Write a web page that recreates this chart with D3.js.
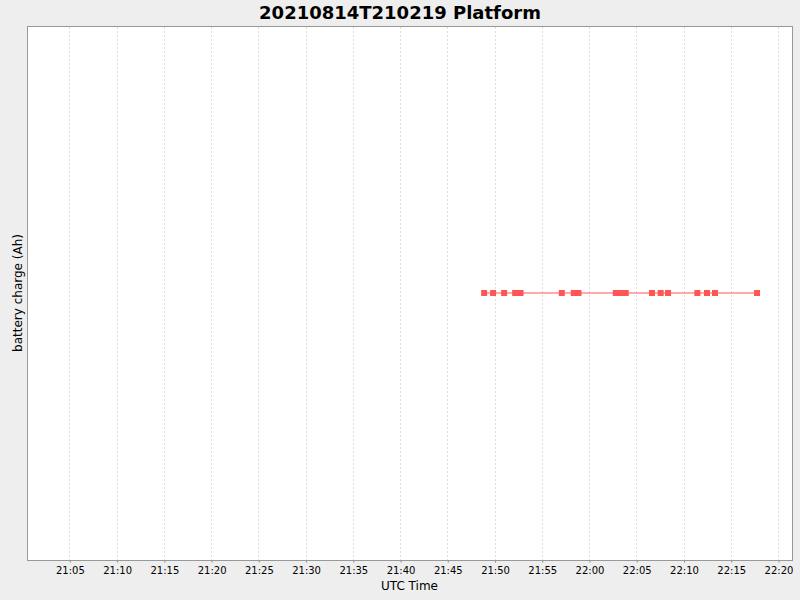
<!DOCTYPE html>
<html>
<head>
<meta charset="utf-8">
<script src="https://cdn.jsdelivr.net/npm/d3@7"></script>
<style>
  html, body { margin: 0; padding: 0; background: #EEEEEE; }
  svg { display: block; font-family: "DejaVu Sans", sans-serif; }
</style>
</head>
<body>
<svg id="chart" width="800" height="600"></svg>
<script>
const chartTitle = "20210814T210219 Platform";
const xAxisLabel = "UTC Time";
const yAxisLabel = "battery charge (Ah)";
const domainTimes = ["2021-08-14T21:00:31Z", "2021-08-14T22:21:29Z"];
const sampleTimes = [
  "2021-08-14T21:48:54Z", "2021-08-14T21:49:51Z", "2021-08-14T21:51:01Z",
  "2021-08-14T21:52:11Z", "2021-08-14T21:52:45Z", "2021-08-14T21:57:07Z",
  "2021-08-14T21:58:23Z", "2021-08-14T21:58:53Z", "2021-08-14T22:02:50Z",
  "2021-08-14T22:03:22Z", "2021-08-14T22:03:53Z", "2021-08-14T22:06:40Z",
  "2021-08-14T22:07:35Z", "2021-08-14T22:08:22Z", "2021-08-14T22:11:28Z",
  "2021-08-14T22:12:29Z", "2021-08-14T22:13:20Z", "2021-08-14T22:17:47Z"
];
const chargeValues = [0, 0, 0, 0, 0, 0, 0, 0, 0, 0, 0, 0, 0, 0, 0, 0, 0, 0];
const yDomain = [-1, 1];

const svg = d3.select("#chart");
const margin = { left: 27, top: 26, right: 8, bottom: 40 };
const W = 800, H = 600;
const pw = W - margin.left - margin.right; // 765
const ph = H - margin.top - margin.bottom; // 534

const data = sampleTimes.map((t, i) => ({ t: new Date(t), v: chargeValues[i] }));

const x = d3.scaleUtc().domain(domainTimes.map(d => new Date(d))).range([margin.left, margin.left + pw]);
const y = d3.scaleLinear().domain(yDomain).range([margin.top + ph, margin.top]);

// background plot
svg.append("rect").attr("x", margin.left + 0.5).attr("y", margin.top + 0.5)
  .attr("width", pw).attr("height", ph).attr("fill", "#FFFFFF");

const ticks = x.ticks(d3.utcMinute.every(5));

// gridlines
svg.append("g").selectAll("line").data(ticks).join("line")
  .attr("x1", d => Math.round(x(d)) + 0.5).attr("x2", d => Math.round(x(d)) + 0.5)
  .attr("y1", margin.top + 1).attr("y2", margin.top + ph)
  .attr("stroke", "#DDDDDD").attr("stroke-width", 1).attr("stroke-dasharray", "2,2");

// x axis
const xAxis = d3.axisBottom(x).tickValues(ticks).tickFormat(d3.utcFormat("%H:%M"))
  .tickSizeInner(2).tickSizeOuter(0).tickPadding(4);
const gx = svg.append("g").attr("transform", `translate(0.5,${margin.top + ph + 0.5})`).call(xAxis);
gx.select(".domain").remove();
gx.selectAll(".tick line").attr("stroke", "#888888");
gx.selectAll(".tick text").attr("font-size", 10).attr("fill", "#000").attr("font-family", "DejaVu Sans");

// plot border
svg.append("rect").attr("x", margin.left + 0.5).attr("y", margin.top + 0.5)
  .attr("width", pw).attr("height", ph).attr("fill", "none").attr("stroke", "#999999");

// line
const line = d3.line().x(d => x(d.t)).y(d => y(d.v));
svg.append("path").datum(data).attr("d", line)
  .attr("fill", "none").attr("stroke", "#FF5555").attr("stroke-width", 1);

// markers
svg.append("g").selectAll("rect").data(data).join("rect")
  .attr("x", d => x(d.t) - 3).attr("y", d => y(d.v) - 3)
  .attr("width", 6).attr("height", 6).attr("fill", "#FF5555");

// title
svg.append("text").attr("x", W / 2).attr("y", 18.5).attr("text-anchor", "middle")
  .attr("font-size", 18).attr("font-weight", "bold").attr("fill", "#000").text(chartTitle);

// axis labels
svg.append("text").attr("x", margin.left + pw / 2).attr("y", 590).attr("text-anchor", "middle")
  .attr("font-size", 12).attr("fill", "#000").text(xAxisLabel);
svg.append("text").attr("transform", `translate(22,${margin.top + ph / 2}) rotate(-90)`)
  .attr("text-anchor", "middle").attr("font-size", 12).attr("fill", "#000").text(yAxisLabel);
</script>
</body>
</html>
